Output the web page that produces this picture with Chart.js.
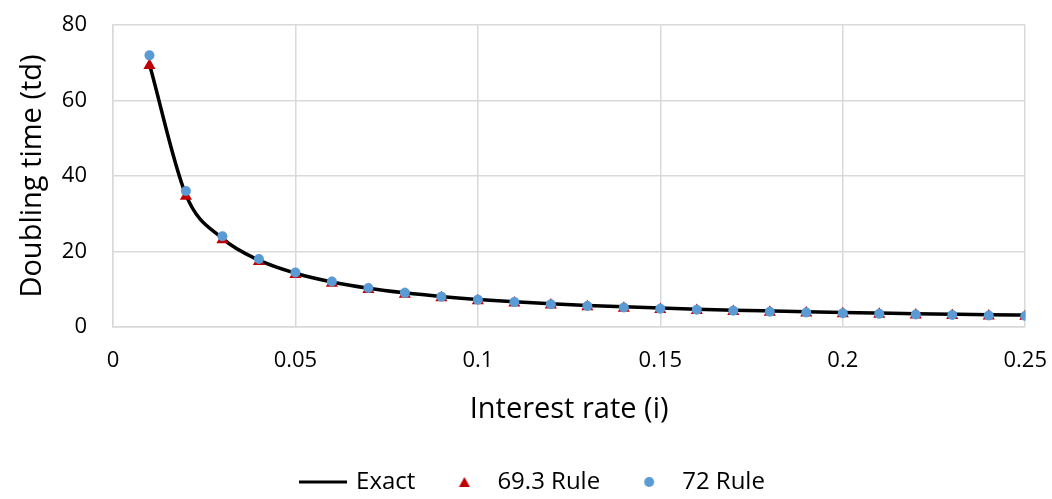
<!DOCTYPE html>
<html>
<head>
<meta charset="utf-8">
<title>Doubling time</title>
<script src="https://cdn.jsdelivr.net/npm/chart.js@4/dist/chart.umd.min.js"></script>
<style>
    html, body { margin: 0; padding: 0; background: #fff; }
    #wrap { width: 1052px; height: 499px; position: relative; }
</style>
</head>
<body>
<div id="wrap"><canvas id="doublingChart"></canvas></div>
<script>
// interest rates (x) and doubling times
const rates = [0.01, 0.02, 0.03, 0.04, 0.05, 0.06, 0.07, 0.08, 0.09, 0.10,
    0.11, 0.12, 0.13, 0.14, 0.15, 0.16, 0.17, 0.18, 0.19, 0.20,
    0.21, 0.22, 0.23, 0.24, 0.25];
const exactTimes = [69.66, 35.0, 23.45, 17.67, 14.21, 11.9, 10.24, 9.01, 8.04, 7.27,
    6.64, 6.12, 5.67, 5.29, 4.96, 4.67, 4.41, 4.19, 3.98, 3.8,
    3.64, 3.49, 3.35, 3.22, 3.11];
const rule693Times = [69.3, 34.65, 23.1, 17.33, 13.86, 11.55, 9.9, 8.66, 7.7, 6.93,
    6.3, 5.78, 5.33, 4.95, 4.62, 4.33, 4.08, 3.85, 3.65, 3.47,
    3.3, 3.15, 3.01, 2.89, 2.77];
const rule72Times = [72, 36, 24, 18, 14.4, 12, 10.29, 9, 8, 7.2,
    6.55, 6, 5.54, 5.14, 4.8, 4.5, 4.24, 4, 3.79, 3.6,
    3.43, 3.27, 3.13, 3, 2.88];
const seriesNames = ['Exact', '69.3 Rule', '72 Rule'];

function toPoints(ys) {
    return rates.map((x, i) => ({ x: x, y: ys[i] }));
}

const fontFamily = '"Open Sans", "Noto Sans", sans-serif';
const gridColor = '#d9d9d9';
const redColor = '#c00000';
const blueColor = '#5b9bd5';

// small canvases used as legend symbols (so the line can be wide
// without stretching the triangle and circle)
function legendSymbol(kind) {
    const c = document.createElement('canvas');
    const g = c.getContext('2d');
    if (kind === 'line') {
        c.width = 48; c.height = 6;
        g.fillStyle = '#000';
        g.fillRect(0, 1.5, 48, 3);
    } else if (kind === 'triangle') {
        c.width = 12; c.height = 12;
        g.fillStyle = redColor;
        g.beginPath();
        g.moveTo(6, 1);
        g.lineTo(11.5, 11);
        g.lineTo(0.5, 11);
        g.closePath();
        g.fill();
    } else {
        c.width = 12; c.height = 12;
        g.fillStyle = blueColor;
        g.beginPath();
        g.arc(6, 6, 5, 0, Math.PI * 2);
        g.fill();
    }
    return c;
}
const legendSymbols = [legendSymbol('line'), legendSymbol('triangle'), legendSymbol('circle')];

const ctx = document.getElementById('doublingChart').getContext('2d');
const doublingChart = new Chart(ctx, {
    type: 'line',
    data: {
        datasets: [{
            label: seriesNames[0],
            data: toPoints(exactTimes),
            borderColor: '#000000',
            backgroundColor: '#000000',
            borderWidth: 3.5,
            pointRadius: 0,
            cubicInterpolationMode: 'monotone',
            order: 3
        }, {
            label: seriesNames[1],
            data: toPoints(rule693Times),
            showLine: false,
            pointStyle: 'triangle',
            pointRadius: 7,
            pointBackgroundColor: redColor,
            pointBorderColor: redColor,
            backgroundColor: redColor,
            borderColor: redColor,
            borderWidth: 0,
            order: 2
        }, {
            label: seriesNames[2],
            data: toPoints(rule72Times),
            showLine: false,
            pointStyle: 'circle',
            pointRadius: 5,
            pointBackgroundColor: blueColor,
            pointBorderColor: blueColor,
            backgroundColor: blueColor,
            borderColor: blueColor,
            borderWidth: 0,
            order: 1
        }]
    },
    options: {
        responsive: true,
        maintainAspectRatio: false,
        animation: false,
        layout: {
            padding: { left: 15, right: 0, top: 0, bottom: 0 }
        },
        plugins: {
            tooltip: { enabled: false },
            legend: {
                position: 'bottom',
                maxHeight: 57,
                labels: {
                    usePointStyle: true,
                    pointStyleWidth: 42,
                    boxHeight: 8,
                    padding: 28,
                    color: '#000',
                    font: { family: fontFamily, size: 24 },
                    sort: (a, b) => a.datasetIndex - b.datasetIndex,
                    generateLabels: function (chart) {
                        const items = Chart.defaults.plugins.legend.labels.generateLabels(chart);
                        items.forEach(item => {
                            item.pointStyle = legendSymbols[item.datasetIndex];
                        });
                        return items;
                    }
                }
            }
        },
        scales: {
            x: {
                type: 'linear',
                min: 0,
                max: 0.25,
                ticks: {
                    stepSize: 0.05,
                    padding: 5,
                    color: '#000',
                    font: { family: fontFamily, size: 22 },
                    callback: value => String(Number(value.toFixed(2)))
                },
                grid: {
                    color: gridColor, lineWidth: 1.5,
                    drawTicks: true, tickLength: 16, tickColor: 'rgba(0,0,0,0)'
                },
                border: { color: gridColor, width: 1.5 },
                title: {
                    display: true,
                    text: 'Interest rate (i)',
                    color: '#000',
                    font: { family: fontFamily, size: 29 },
                    padding: { top: 13, bottom: 15 }
                }
            },
            y: {
                min: 0,
                max: 80,
                ticks: {
                    stepSize: 20,
                    padding: 12,
                    color: '#000',
                    font: { family: fontFamily, size: 22 }
                },
                grid: {
                    color: gridColor, lineWidth: 1.5,
                    drawTicks: true, tickLength: 14, tickColor: 'rgba(0,0,0,0)'
                },
                border: { color: gridColor, width: 1.5 },
                title: {
                    display: true,
                    text: 'Doubling time (td)',
                    color: '#000',
                    font: { family: fontFamily, size: 29 },
                    padding: { top: 0, bottom: 0 }
                }
            }
        }
    }
});
</script>
</body>
</html>
